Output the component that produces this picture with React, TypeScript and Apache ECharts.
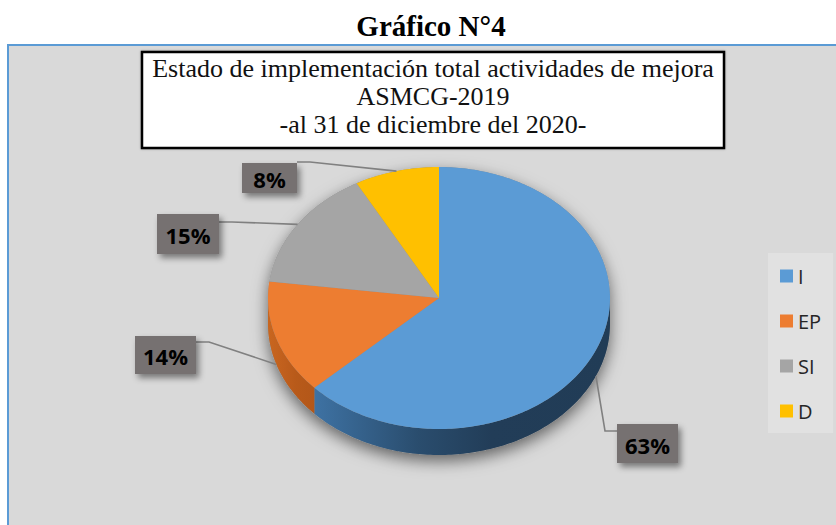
import React, { useEffect, useRef } from 'react';
import * as echarts from 'echarts';

// ---- data ----
const categories = ['I', 'EP', 'SI', 'D'];
const values = [63, 14, 15, 8];
const colors = ['#5B9BD5', '#ED7D31', '#A5A5A5', '#FFC000'];
const wallStops = [
  ['#3e72a3', '#2a4d6e', '#223d58', '#213c56'],
  ['#c8661f', '#c05f1d', '#b85a1a', '#b35719'],
  ['#808080', '#777777', '#6e6e6e', '#6a6a6a'],
  ['#c29200', '#b48700', '#a87e00', '#a07800'],
];
const titleText = 'Gráfico N°4';
const subtitleLines = [
  'Estado de implementación total actividades de mejora',
  'ASMCG-2019',
  '-al 31 de diciembre del 2020-',
];

// ---- layout (positions / sizes only) ----
const PIE = { cx: 439, cy: 298, rx: 171, ry: 131, depth: 26 };
const labelBoxes = [
  { x: 617, y: 424, w: 61, h: 39, side: 'left', ly: 7 },
  { x: 135, y: 336, w: 61, h: 38, side: 'right', ly: 6 },
  { x: 157, y: 214, w: 62, h: 40, side: 'right', ly: 8 },
  { x: 242, y: 163, w: 55, h: 30, side: 'right', ly: -1 },
];

const total = values.reduce((a, b) => a + b, 0);
const cum: number[] = [0];
values.forEach((v) => cum.push(cum[cum.length - 1] + v));
const ang = (k: number) => (cum[k] / total) * Math.PI * 2;
const pt = (t: number, dy = 0) => [PIE.cx + PIE.rx * Math.sin(t), PIE.cy - PIE.ry * Math.cos(t) + dy];
const arc = (a: number, b: number, dy = 0) => {
  const n = Math.max(2, Math.ceil(Math.abs(b - a) / (Math.PI / 180)));
  const out: number[][] = [];
  for (let k = 0; k <= n; k++) out.push(pt(a + ((b - a) * k) / n, dy));
  return out;
};

function buildSlice(i: number) {
  const a = ang(i);
  const b = ang(i + 1);
  const children: any[] = [];
  if (i === 0) {
    const sil = [...arc(-Math.PI / 2, Math.PI / 2), ...arc(Math.PI / 2, (3 * Math.PI) / 2, PIE.depth)];
    children.push({
      type: 'polygon',
      z2: 0,
      shape: { points: sil },
      style: {
        fill: '#8c8c8c',
        shadowBlur: 16,
        shadowOffsetY: 6,
        shadowColor: 'rgba(0,0,0,0.55)',
      },
    });
  }
  const a2 = Math.max(a, Math.PI / 2);
  const b2 = Math.min(b, (3 * Math.PI) / 2);
  if (a2 < b2) {
    const wall = [...arc(a2, b2), ...arc(a2, b2, PIE.depth).reverse()];
    const s = wallStops[i];
    children.push({
      type: 'polygon',
      z2: 1,
      shape: { points: wall },
      style: {
        fill: {
          type: 'linear', x: 1, y: 0, x2: 0, y2: 0,
          colorStops: [
            { offset: 0, color: s[3] },
            { offset: 0.4, color: s[2] },
            { offset: 0.65, color: s[1] },
            { offset: 1, color: s[0] },
          ],
        },
      },
    });
  }
  children.push({
    type: 'polygon',
    z2: 2,
    shape: { points: [[PIE.cx, PIE.cy], ...arc(a, b)] },
    style: { fill: colors[i] },
  });
  // label + leader
  const mid = (a + b) / 2;
  const anchor = pt(mid, Math.cos(mid) < 0 ? PIE.depth : 0);
  const box = labelBoxes[i];
  const sx = box.side === 'left' ? box.x : box.x + box.w;
  const sy = box.y + box.ly;
  const bx = box.side === 'left' ? sx - 12 : sx + 13;
  children.push({
    type: 'polyline',
    z2: 3,
    shape: { points: [[sx, sy], [bx, sy], anchor] },
    style: { stroke: '#808080', lineWidth: 1.6, fill: 'none' },
  });
  children.push({
    type: 'rect',
    z2: 4,
    shape: { x: box.x, y: box.y, width: box.w, height: box.h },
    style: {
      fill: '#767171',
      shadowBlur: 6,
      shadowOffsetX: 3,
      shadowOffsetY: 4,
      shadowColor: 'rgba(0,0,0,0.45)',
    },
  });
  children.push({
    type: 'text',
    z2: 5,
    x: box.x + box.w / 2,
    y: box.y + box.h / 2 + 1,
    style: {
      text: Math.round((values[i] / total) * 100) + '%',
      fill: '#000000',
      font: 'bold 22px "Open Sans"',
      align: 'center',
      verticalAlign: 'middle',
    },
  });
  return { type: 'group', children };
}

export default function App() {
  const ref = useRef<HTMLDivElement>(null);
  useEffect(() => {
    if (!ref.current) return;
    const chart = echarts.init(ref.current, null, { renderer: 'svg' });
    const option: any = {
      animation: false,
      textStyle: { fontFamily: '"Open Sans", sans-serif' },
      color: colors,
      legend: {
        orient: 'vertical',
        left: 768,
        top: 253,
        data: categories,
        icon: 'rect',
        itemWidth: 13,
        itemHeight: 13,
        itemGap: 25,
        padding: [13, 12, 12, 12],
        backgroundColor: '#e1e1e1',
        selectedMode: false,
        textStyle: { fontFamily: '"Open Sans"', fontSize: 20, color: '#262626', lineHeight: 20 },
      },
      graphic: [
        { type: 'rect', z: -10, shape: { x: 8, y: 45, width: 828, height: 480 }, style: { fill: '#d9d9d9' } },
        { type: 'line', z: -9, shape: { x1: 7, y1: 45, x2: 836, y2: 45 }, style: { stroke: '#5B9BD5', lineWidth: 2 } },
        { type: 'line', z: -9, shape: { x1: 8, y1: 45, x2: 8, y2: 525 }, style: { stroke: '#5B9BD5', lineWidth: 2 } },
        {
          type: 'text', x: 431, y: 26,
          style: { text: titleText, font: 'bold 29px "Liberation Serif"', fill: '#000', align: 'center', verticalAlign: 'middle' },
        },
        {
          type: 'rect', z: -8, shape: { x: 142, y: 52, width: 582, height: 96 },
          style: { fill: '#ffffff', stroke: '#000000', lineWidth: 2.5, shadowBlur: 2, shadowColor: 'rgba(0,0,0,0.3)' },
        },
        ...subtitleLines.map((t, k) => ({
          type: 'text', x: 433, y: 68.5 + k * 28,
          style: { text: t, font: '26px "Liberation Serif"', fill: '#111111', align: 'center', verticalAlign: 'middle' },
        })),
      ],
      series: categories.map((name, i) => ({
        type: 'custom',
        name,
        coordinateSystem: 'none',
        silent: true,
        itemStyle: { color: colors[i] },
        data: [values[i]],
        renderItem: () => buildSlice(i),
      })),
    };
    chart.setOption(option);
    return () => chart.dispose();
  }, []);
  return <div ref={ref} style={{ position: 'absolute', left: 0, top: 0, width: 836, height: 525 }} />;
}
